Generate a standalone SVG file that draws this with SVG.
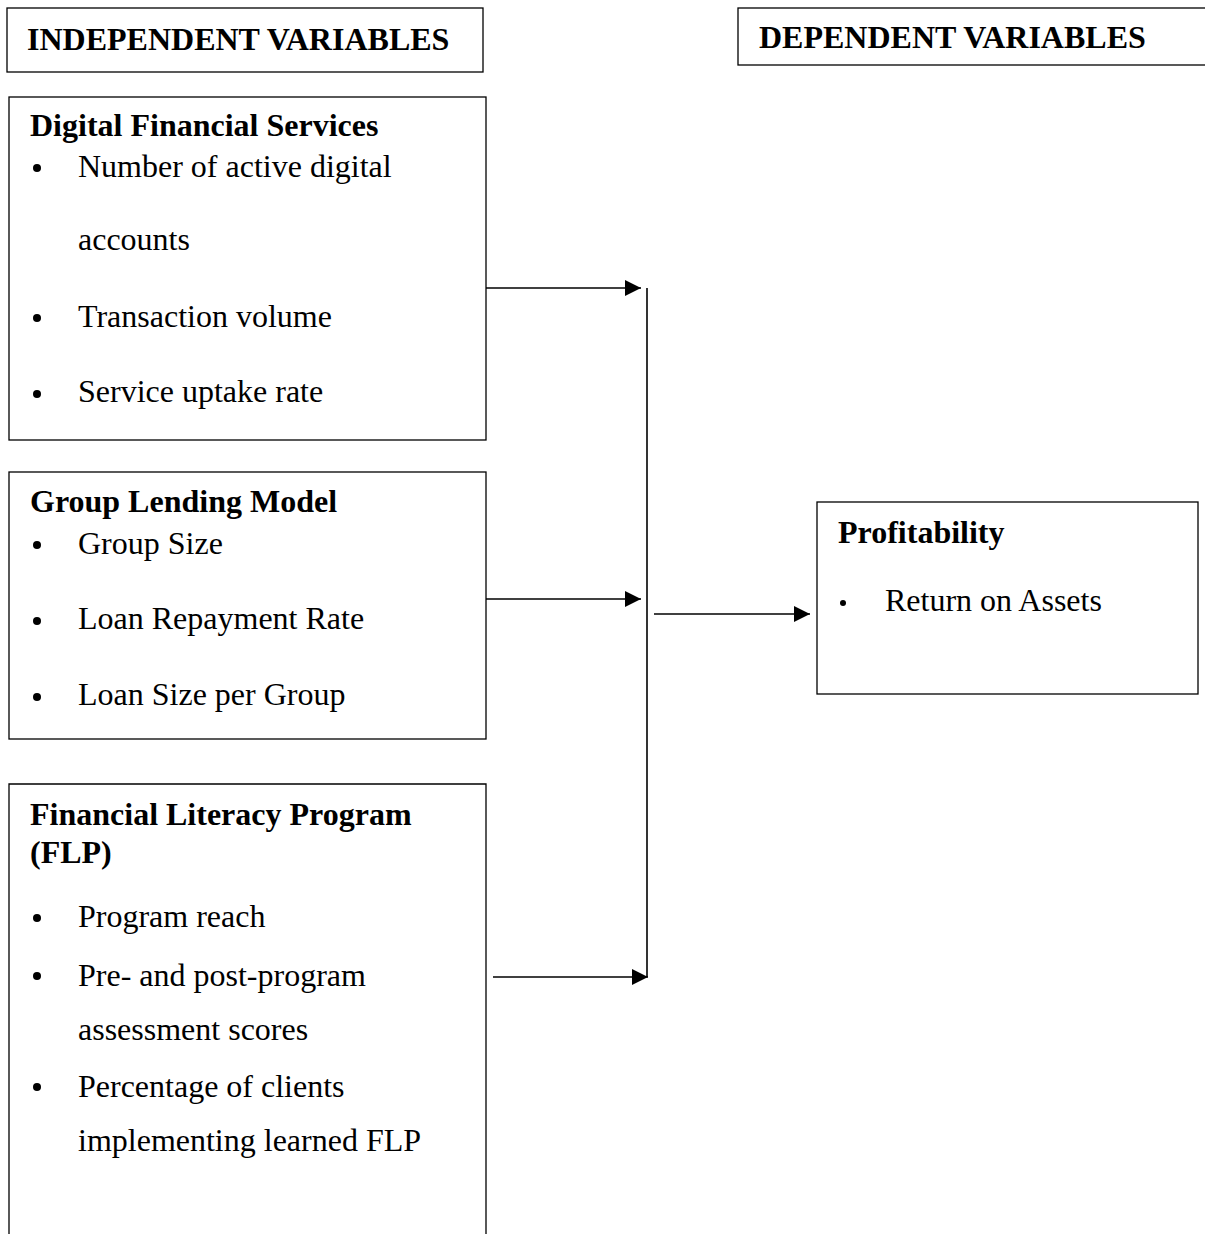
<svg xmlns="http://www.w3.org/2000/svg" width="1205" height="1234" viewBox="0 0 1205 1234">
<style>
.box{fill:#fff;stroke:#000;stroke-width:1.3}
.h{font-family:"Liberation Serif","Times New Roman",serif;font-weight:bold;font-size:32px;fill:#000}
.t{font-family:"Liberation Serif","Times New Roman",serif;font-size:32px;fill:#000}
.ln{stroke:#000;stroke-width:1.6;fill:none}
</style>
<defs>
<marker id="ah" viewBox="0 0 10 10" refX="10" refY="5" markerWidth="16" markerHeight="16" markerUnits="userSpaceOnUse" orient="auto">
<path d="M0,0 L10,5 L0,10 Z" fill="#000"/>
</marker>
</defs>
<rect width="1205" height="1234" fill="#fff"/>
<g id="independent-header">
<rect class="box" x="7" y="8" width="476" height="64"/>
<text class="h" x="27" y="50">INDEPENDENT VARIABLES</text>
</g>
<g id="dependent-header">
<rect class="box" x="738" y="8" width="480" height="57"/>
<text class="h" x="759" y="48">DEPENDENT VARIABLES</text>
</g>
<g id="dfs">
<rect class="box" x="9" y="97" width="477" height="343"/>
<text class="h" x="30" y="136">Digital Financial Services</text>
<circle cx="37" cy="168" r="4"/>
<text class="t" x="78" y="177">Number of active digital</text>
<text class="t" x="78" y="250">accounts</text>
<circle cx="37" cy="318" r="4"/>
<text class="t" x="78" y="327">Transaction volume</text>
<circle cx="37" cy="394" r="4"/>
<text class="t" x="78" y="402">Service uptake rate</text>
</g>
<g id="glm">
<rect class="box" x="9" y="472" width="477" height="267"/>
<text class="h" x="30" y="512">Group Lending Model</text>
<circle cx="37" cy="545" r="4"/>
<text class="t" x="78" y="554">Group Size</text>
<circle cx="37" cy="621" r="4"/>
<text class="t" x="78" y="629">Loan Repayment Rate</text>
<circle cx="37" cy="697" r="4"/>
<text class="t" x="78" y="705">Loan Size per Group</text>
</g>
<g id="flp">
<path class="box" d="M9,1234 L9,784 L486,784 L486,1234"/>
<text class="h" x="30" y="825">Financial Literacy Program</text>
<text class="h" x="30" y="863">(FLP)</text>
<circle cx="37" cy="918" r="4"/>
<text class="t" x="78" y="927">Program reach</text>
<circle cx="37" cy="976" r="4"/>
<text class="t" x="78" y="986">Pre- and post-program</text>
<text class="t" x="78" y="1040">assessment scores</text>
<circle cx="37" cy="1087" r="4"/>
<text class="t" x="78" y="1097">Percentage of clients</text>
<text class="t" x="78" y="1151">implementing learned FLP</text>
</g>
<g id="profitability">
<rect class="box" x="817" y="502" width="381" height="192"/>
<text class="h" x="838" y="543">Profitability</text>
<circle cx="843" cy="603" r="3"/>
<text class="t" x="885" y="611">Return on Assets</text>
</g>
<g id="connectors">
<line class="ln" x1="486" y1="288" x2="641" y2="288" marker-end="url(#ah)"/>
<line class="ln" x1="486" y1="599" x2="641" y2="599" marker-end="url(#ah)"/>
<line class="ln" x1="493" y1="977" x2="648" y2="977" marker-end="url(#ah)"/>
<line class="ln" x1="647" y1="288" x2="647" y2="977"/>
<line class="ln" x1="654" y1="614" x2="810" y2="614" marker-end="url(#ah)"/>
</g>
</svg>
